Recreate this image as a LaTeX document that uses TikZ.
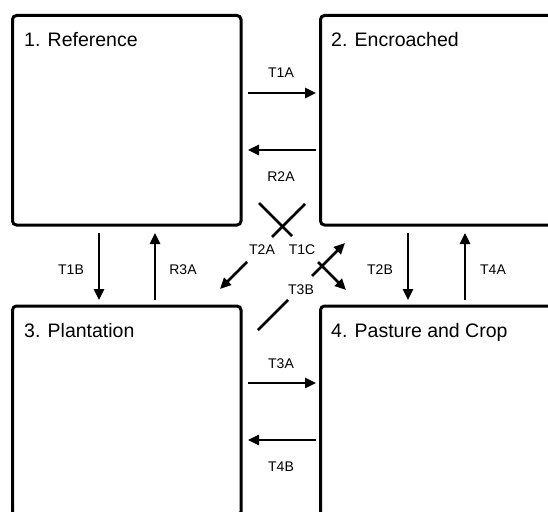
\documentclass[tikz,border=0pt]{standalone}
\usepackage{fontspec}
\setmainfont{Liberation Sans}
\usetikzlibrary{arrows.meta}
\begin{document}
\begin{tikzpicture}[x=1pt,y=-1pt,
  box/.style={draw,line width=3pt,rounded corners=4pt,minimum width=228.5pt,minimum height=209.5pt,outer sep=0pt,inner sep=0pt},
  wbox/.style={box,minimum width=250pt},
  title/.style={anchor=base west,inner sep=0pt,font=\fontsize{19.5}{22}\selectfont},
  lab/.style={inner sep=0pt,font=\fontsize{14}{16}\selectfont},
  arr/.style={line width=2.5pt,-{Triangle[length=11pt,width=10pt]}},
  seg/.style={line width=2.5pt}]
\useasboundingbox (0,0) rectangle (548,511);
\clip (0,0) rectangle (548,511);
% boxes
\node[box] (b1) at (126.75,120.25) {};
\node[wbox] (b2) at (445.5,120.25) {};
\node[box] (b3) at (126.75,410.75) {};
\node[wbox] (b4) at (445.5,410.75) {};
% titles
\node[title] (t1) at (24,47) {1. Reference};
\node[title] (t2) at (331,47) {2. Encroached};
\node[title] (t3) at (24,337) {3. Plantation};
\node[title] (t4) at (331,337) {4. Pasture and Crop};
% horizontal arrows
\draw[arr,shorten <=7pt,shorten >=4.5pt] (b1.east |- 0,93) -- (b2.west |- 0,93);
\draw[arr,shorten <=4.5pt,shorten >=7pt] (b2.west |- 0,150) -- (b1.east |- 0,150);
\draw[arr,shorten <=7pt,shorten >=4.5pt] (b3.east |- 0,383) -- (b4.west |- 0,383);
\draw[arr,shorten <=4.5pt,shorten >=7pt] (b4.west |- 0,440) -- (b3.east |- 0,440);
% vertical arrows
\draw[arr,shorten <=8pt,shorten >=6pt] (b1.south -| 99,0) -- (b3.north -| 99,0);
\draw[arr,shorten <=6pt,shorten >=8pt] (b3.north -| 155,0) -- (b1.south -| 155,0);
\draw[arr,shorten <=8pt,shorten >=6pt] (b2.south -| 408,0) -- (b4.north -| 408,0);
\draw[arr,shorten <=6pt,shorten >=8pt] (b4.north -| 465,0) -- (b2.south -| 465,0);
% diagonal connectors
\coordinate (a1) at (305,204); \coordinate (a2) at (272,237);
\coordinate (a3) at (247,262); \coordinate (a4) at (220,289);
\coordinate (c1) at (259,203); \coordinate (c2) at (292,236);
\coordinate (c3) at (318,262); \coordinate (c4) at (346,290);
\coordinate (d1) at (258,330); \coordinate (d2) at (288,300);
\coordinate (d3) at (312,276); \coordinate (d4) at (345,243);
\draw[seg] (a1) -- (a2);
\draw[arr] (a3) -- (a4);
\draw[seg] (c1) -- (c2);
\draw[arr] (c3) -- (c4);
\draw[seg] (d1) -- (d2);
\draw[arr] (d3) -- (d4);
% labels
\node[lab] (l1) at (281,73) {T1A};
\node[lab] (l2) at (281,177) {R2A};
\node[lab] (l3) at (281,364) {T3A};
\node[lab] (l4) at (281,467) {T4B};
\node[lab] (l5) at (71,270) {T1B};
\node[lab] (l6) at (183,270) {R3A};
\node[lab] (l7) at (380,270) {T2B};
\node[lab] (l8) at (493,270) {T4A};
\node[lab] (l9) at (262,250) {T2A};
\node[lab] (l10) at (302,250) {T1C};
\node[lab] (l11) at (301,290) {T3B};
\end{tikzpicture}
\end{document}
